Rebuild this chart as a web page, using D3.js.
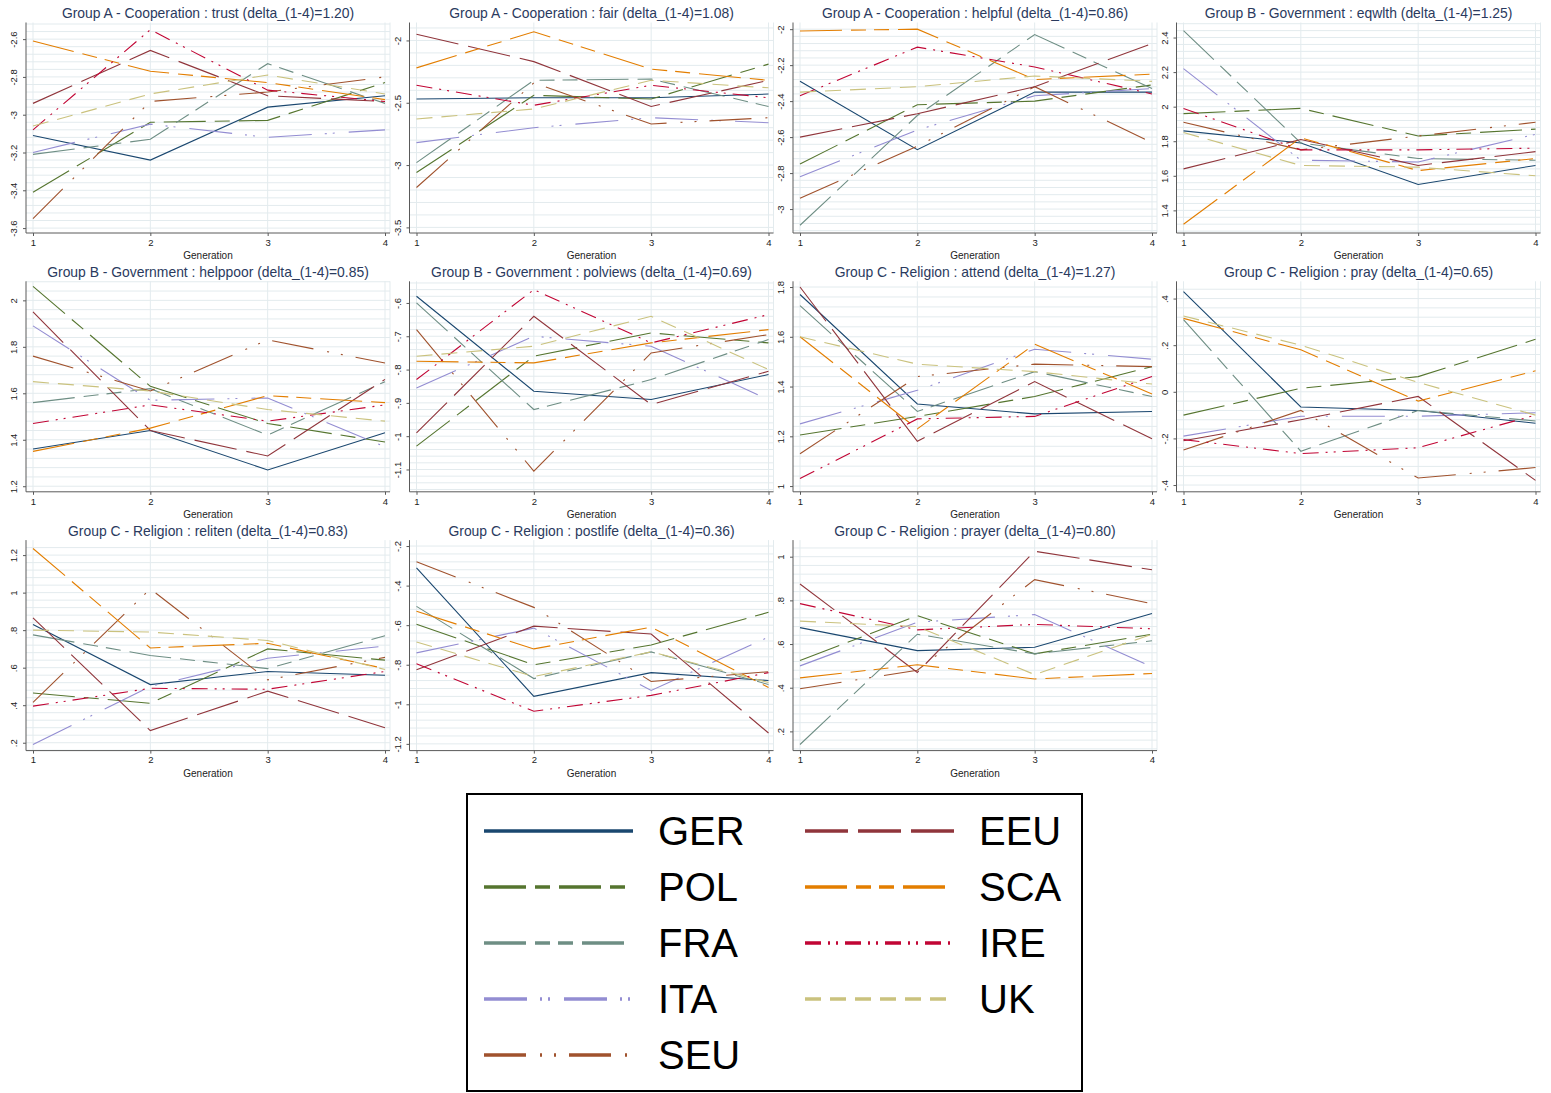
<!DOCTYPE html>
<html>
<head>
<meta charset="utf-8">
<script src="https://cdn.jsdelivr.net/npm/d3@7"></script>
<style>
  body { margin: 0; background: #fff; }
  text { font-family: "Liberation Sans", Arial, sans-serif; }
</style>
</head>
<body>
<div id="chart"></div>
<script>
// Series (legend order) and x values
const countries = ["GER", "POL", "FRA", "ITA", "SEU", "EEU", "SCA", "IRE", "UK"];
const generations = [1, 2, 3, 4];

const titles = [
  "Group A - Cooperation : trust (delta_(1-4)=1.20)",
  "Group A - Cooperation : fair (delta_(1-4)=1.08)",
  "Group A - Cooperation : helpful (delta_(1-4)=0.86)",
  "Group B - Government : eqwlth (delta_(1-4)=1.25)",
  "Group B - Government : helppoor (delta_(1-4)=0.85)",
  "Group B - Government : polviews (delta_(1-4)=0.69)",
  "Group C - Religion : attend (delta_(1-4)=1.27)",
  "Group C - Religion : pray (delta_(1-4)=0.65)",
  "Group C - Religion : reliten (delta_(1-4)=0.83)",
  "Group C - Religion : postlife (delta_(1-4)=0.36)",
  "Group C - Religion : prayer (delta_(1-4)=0.80)"
];

// one row per country, one value per generation
const trust = [
  [-3.11, -3.24, -2.96, -2.90], [-3.41, -3.04, -3.03, -2.83], [-3.21, -3.13, -2.73, -2.94],
  [-3.20, -3.05, -3.12, -3.08], [-3.55, -2.93, -2.88, -2.80], [-2.94, -2.66, -2.90, -2.93],
  [-2.61, -2.77, -2.83, -2.92], [-3.08, -2.55, -2.87, -2.93], [-3.06, -2.89, -2.79, -2.89]
];
const fair = [
  [-2.47, -2.46, -2.46, -2.43], [-3.06, -2.44, -2.47, -2.19], [-2.98, -2.32, -2.31, -2.53],
  [-2.82, -2.70, -2.62, -2.66], [-3.18, -2.34, -2.67, -2.62], [-1.95, -2.17, -2.53, -2.32],
  [-2.22, -1.93, -2.23, -2.32], [-2.36, -2.52, -2.36, -2.46], [-2.63, -2.55, -2.32, -2.38]
];
const helpful = [
  [-2.29, -2.67, -2.35, -2.35], [-2.75, -2.42, -2.40, -2.31], [-3.09, -2.48, -2.03, -2.33],
  [-2.82, -2.56, -2.37, -2.33], [-2.94, -2.65, -2.32, -2.63], [-2.60, -2.47, -2.32, -2.08],
  [-2.01, -2.00, -2.28, -2.25], [-2.37, -2.10, -2.21, -2.36], [-2.35, -2.32, -2.26, -2.29]
];
const eqwlth = [
  [1.86, 1.79, 1.55, 1.66], [1.96, 1.99, 1.83, 1.87], [2.44, 1.79, 1.70, 1.69],
  [2.22, 1.69, 1.68, 1.84], [1.91, 1.75, 1.83, 1.91], [1.64, 1.81, 1.66, 1.74],
  [1.32, 1.82, 1.63, 1.70], [1.99, 1.75, 1.75, 1.76], [1.85, 1.66, 1.65, 1.60]
];
const helppoor = [
  [1.36, 1.44, 1.27, 1.43], [2.06, 1.63, 1.47, 1.39], [1.56, 1.62, 1.42, 1.65],
  [1.89, 1.57, 1.58, 1.37], [1.76, 1.61, 1.83, 1.73], [1.95, 1.44, 1.33, 1.66],
  [1.35, 1.45, 1.59, 1.56], [1.47, 1.55, 1.48, 1.55], [1.65, 1.61, 1.53, 1.48]
];
const polviews = [
  [-0.58, -0.865, -0.89, -0.815], [-1.03, -0.76, -0.69, -0.72], [-0.60, -0.92, -0.83, -0.71],
  [-0.855, -0.70, -0.73, -0.89], [-0.68, -1.105, -0.75, -0.695], [-0.99, -0.64, -0.905, -0.805],
  [-0.775, -0.78, -0.72, -0.68], [-0.83, -0.56, -0.72, -0.635], [-0.76, -0.73, -0.64, -0.80]
];
const attend = [
  [1.77, 1.33, 1.29, 1.30], [1.205, 1.28, 1.36, 1.48], [1.725, 1.30, 1.46, 1.36],
  [1.25, 1.385, 1.55, 1.51], [1.13, 1.44, 1.49, 1.48], [1.80, 1.18, 1.42, 1.19],
  [1.60, 1.23, 1.57, 1.37], [1.03, 1.27, 1.28, 1.44], [1.60, 1.49, 1.46, 1.41]
];
const pray = [
  [0.43, -0.065, -0.08, -0.135], [-0.10, 0.015, 0.065, 0.225], [0.31, -0.255, -0.08, -0.125],
  [-0.19, -0.105, -0.105, -0.09], [-0.25, -0.08, -0.37, -0.325], [-0.21, -0.12, -0.02, -0.38],
  [0.315, 0.18, -0.04, 0.09], [-0.205, -0.265, -0.24, -0.10], [0.325, 0.20, 0.04, -0.10]
];
const reliten = [
  [0.83, 0.51, 0.58, 0.56], [0.465, 0.41, 0.70, 0.64], [0.775, 0.665, 0.595, 0.77],
  [0.19, 0.50, 0.65, 0.715], [0.415, 1.02, 0.535, 0.655], [0.865, 0.265, 0.475, 0.28],
  [1.235, 0.705, 0.73, 0.595], [0.395, 0.49, 0.485, 0.58], [0.80, 0.79, 0.745, 0.59]
];
const postlife = [
  [-0.31, -0.96, -0.84, -0.88], [-0.595, -0.80, -0.70, -0.535], [-0.505, -0.87, -0.735, -0.90],
  [-0.74, -0.615, -0.93, -0.66], [-0.28, -0.51, -0.885, -0.835], [-0.825, -0.605, -0.645, -1.145],
  [-0.53, -0.72, -0.61, -0.915], [-0.795, -1.035, -0.955, -0.84], [-0.685, -0.86, -0.735, -0.89]
];
const prayer = [
  [0.675, 0.57, 0.585, 0.74], [0.525, 0.73, 0.555, 0.645], [0.14, 0.645, 0.555, 0.615],
  [0.50, 0.70, 0.735, 0.495], [0.395, 0.48, 0.895, 0.785], [0.875, 0.47, 1.025, 0.94],
  [0.445, 0.505, 0.44, 0.465], [0.785, 0.665, 0.69, 0.67], [0.705, 0.68, 0.46, 0.645]
];

const panelValues = [trust, fair, helpful, eqwlth, helppoor, polviews, attend, pray, reliten, postlife, prayer];

// y tick labels of each panel
const yTicks = [
  [-3.6, -3.4, -3.2, -3, -2.8, -2.6],
  [-3.5, -3, -2.5, -2],
  [-3, -2.8, -2.6, -2.4, -2.2, -2],
  [1.4, 1.6, 1.8, 2, 2.2, 2.4],
  [1.2, 1.4, 1.6, 1.8, 2],
  [-1.1, -1, -0.9, -0.8, -0.7, -0.6],
  [1, 1.2, 1.4, 1.6, 1.8],
  [-0.4, -0.2, 0, 0.2, 0.4],
  [0.2, 0.4, 0.6, 0.8, 1, 1.2],
  [-1.2, -1, -0.8, -0.6, -0.4, -0.2],
  [0.2, 0.4, 0.6, 0.8, 1]
];
// y range covered by each plot region
const yRanges = [
  [-3.626, -2.512], [-3.545, -1.856], [-3.133, -1.963], [1.269, 2.487],
  [1.176, 2.082], [-1.167, -0.535], [0.977, 1.823], [-0.429, 0.474],
  [0.158, 1.28], [-1.234, -0.17], [0.112, 1.076]
];

// styles
const colors = ["#1a476f", "#55752f", "#6e8e84", "#938dd2", "#a0522d", "#90353b", "#e37e00", "#c10534", "#cac27e"];
const dashes = [
  null,
  "42 9 15 9",
  "42 9 15 8 15 9",
  "43 13 2 6 2 14",
  "42 14 2 12 2 13",
  "43 10",
  "42 9 15 8 15 9",
  "16 7 2 6 2 7",
  "16 9"
];

const svgWidth = 1551;
const svgHeight = 1093;

let svg = d3.select("#chart")
  .append("svg")
  .attr("width", svgWidth)
  .attr("height", svgHeight);

svg.append("rect").attr("width", svgWidth).attr("height", svgHeight).attr("fill", "#fff");

const colStep = 383.5;
const rowStep = 258.8;
const gridColor = "#e3ebee";
const axisColor = "#5a5a5a";

// Stata-style number labels (.4 instead of 0.4)
function fmt(v) {
  let s = String(+v.toFixed(3));
  return s.replace(/^(-?)0\./, "$1.");
}

panelValues.forEach((values, p) => {
  let col = p % 4;
  let row = Math.floor(p / 4);
  let ox = col * colStep;
  let oy = row * rowStep;

  let left = ox + 26, right = ox + 390;
  let top = oy + 22.5, bottom = oy + 233;

  let x = d3.scaleLinear().domain([1, 4]).range([ox + 33, ox + 385]);
  let y = d3.scaleLinear().domain(yRanges[p]).range([bottom, top]);

  let g = svg.append("g");

  // minor + major horizontal grid
  let ticks = yTicks[p];
  let step = ticks[1] - ticks[0];
  let minor = [];
  for (let v = ticks[0] - step; v <= ticks[ticks.length - 1] + step + 1e-9; v += step / 5) {
    if (v >= yRanges[p][0] && v <= yRanges[p][1]) minor.push(v);
  }
  g.selectAll(".gridy")
    .data(minor)
    .join("line")
    .attr("x1", left).attr("x2", right)
    .attr("y1", d => y(d)).attr("y2", d => y(d))
    .attr("stroke", gridColor)
    .attr("stroke-width", 1);

  // vertical grid at generations + right edge
  g.selectAll(".gridx")
    .data(generations)
    .join("line")
    .attr("x1", d => x(d)).attr("x2", d => x(d))
    .attr("y1", top).attr("y2", bottom)
    .attr("stroke", gridColor)
    .attr("stroke-width", 1);
  g.append("line")
    .attr("x1", right).attr("x2", right)
    .attr("y1", top).attr("y2", bottom)
    .attr("stroke", gridColor);

  // series lines
  let line = d3.line()
    .x((d, i) => x(generations[i]))
    .y(d => y(d));

  g.selectAll(".series")
    .data(values)
    .join("path")
    .attr("d", d => line(d))
    .attr("fill", "none")
    .attr("stroke", (d, i) => colors[i])
    .attr("stroke-width", 1.1)
    .attr("stroke-dasharray", (d, i) => dashes[i]);

  // axes
  let leftAxis = d3.axisLeft(y)
    .tickValues(ticks)
    .tickSize(3)
    .tickFormat(fmt);
  let yAxis = g.append("g")
    .attr("transform", `translate(${left},0)`)
    .call(leftAxis);
  yAxis.select(".domain").attr("d", `M0,${top}V${bottom}`).attr("stroke", axisColor);
  yAxis.selectAll(".tick line").attr("stroke", axisColor);
  yAxis.selectAll(".tick text")
    .attr("x", null).attr("dy", null)
    .attr("transform", "translate(-9,0) rotate(-90)")
    .attr("text-anchor", "middle")
    .attr("font-size", 9.5)
    .attr("fill", "#222");

  let bottomAxis = d3.axisBottom(x)
    .tickValues(generations)
    .tickSize(3)
    .tickFormat(d3.format("d"));
  let xAxis = g.append("g")
    .attr("transform", `translate(0,${bottom})`)
    .call(bottomAxis);
  xAxis.select(".domain").attr("d", `M${left},0H${right}`).attr("stroke", axisColor);
  xAxis.selectAll(".tick line").attr("stroke", axisColor);
  xAxis.selectAll(".tick text")
    .attr("y", 6)
    .attr("font-size", 9.5)
    .attr("fill", "#222");

  g.append("text")
    .attr("x", (left + right) / 2)
    .attr("y", bottom + 26)
    .attr("text-anchor", "middle")
    .attr("font-size", 10)
    .attr("fill", "#222")
    .text("Generation");

  g.append("text")
    .attr("x", (left + right) / 2)
    .attr("y", oy + 18)
    .attr("text-anchor", "middle")
    .attr("font-size", 13.9)
    .attr("fill", "#2a3a5e")
    .text(titles[p]);
});

// legend, two columns
let legend = svg.append("g");
legend.append("rect")
  .attr("x", 467).attr("y", 794)
  .attr("width", 615).attr("height", 297)
  .attr("fill", "#fff")
  .attr("stroke", "#000")
  .attr("stroke-width", 2);

let items = legend.selectAll(".item")
  .data(countries)
  .join("g")
  .attr("transform", (d, i) => {
    let c = i < 5 ? 0 : 1;
    let r = i < 5 ? i : i - 5;
    return `translate(${484 + c * 321},${831 + r * 56})`;
  });

items.append("line")
  .attr("x1", 0).attr("x2", 149)
  .attr("y1", 0).attr("y2", 0)
  .attr("stroke", (d, i) => colors[i])
  .attr("stroke-width", 3.5)
  .attr("stroke-dasharray", (d, i) => dashes[i]);

items.append("text")
  .attr("x", 174)
  .attr("y", 0)
  .attr("dy", "0.36em")
  .attr("font-size", 40)
  .attr("fill", "#000")
  .text(d => d);
</script>
</body>
</html>
